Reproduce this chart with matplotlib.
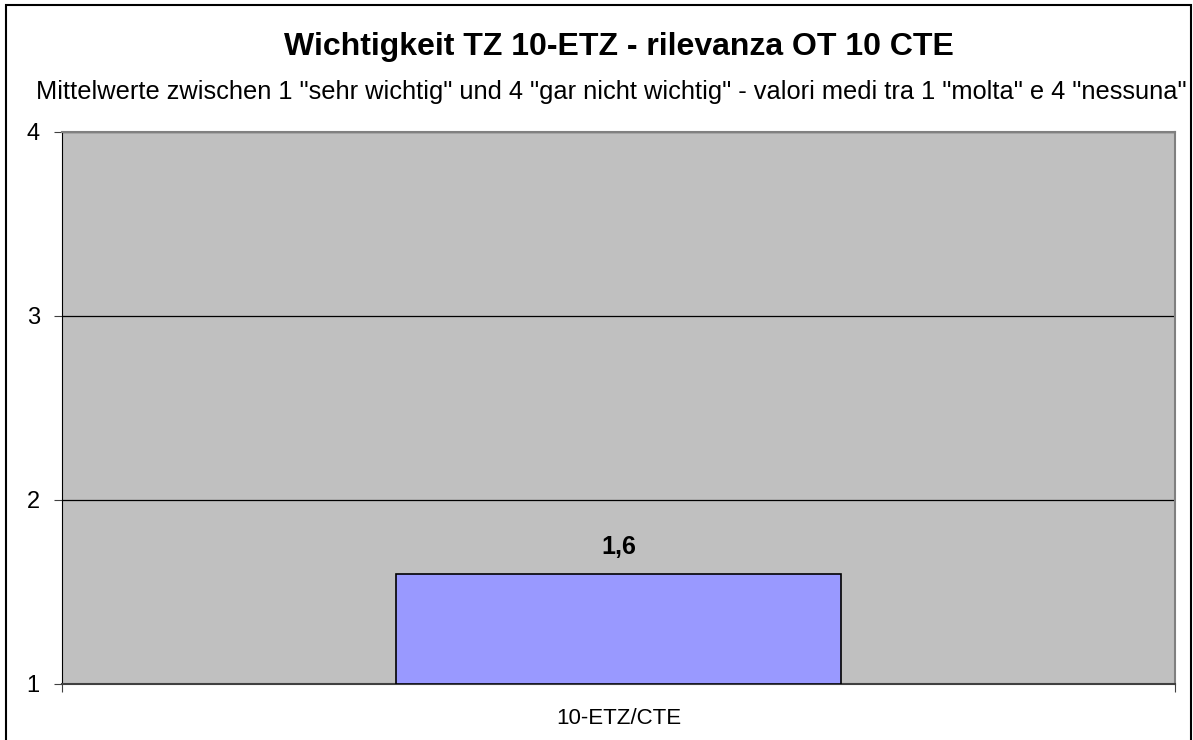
import matplotlib.pyplot as plt
from matplotlib.patches import Rectangle

plt.rcParams['font.family'] = ['Liberation Sans', 'DejaVu Sans']

# Data
categories = ["10-ETZ/CTE"]
values = [1.6]
value_labels = ["1,6"]
y_ticks = [1, 2, 3, 4]

title = "Wichtigkeit TZ 10-ETZ - rilevanza OT 10 CTE"
subtitle = ('Mittelwerte zwischen 1 "sehr wichtig" und 4 "gar nicht wichtig" - '
            'valori medi tra 1 "molta" e 4 "nessuna"')

fig = plt.figure(figsize=(11.93, 7.40), dpi=100)
ax = fig.add_axes([62/1193, 1 - 684/740, (1175 - 62)/1193, (684 - 132)/740])
ax.set_facecolor('#C0C0C0')

x = list(range(len(categories)))
ax.bar(x, [v - 1 for v in values], bottom=1, width=0.4,
       color='#9999FF', edgecolor='black', linewidth=1.2, zorder=3)
for xi, v, lab in zip(x, values, value_labels):
    ax.text(xi, v + 0.08, lab, ha='center', va='bottom',
            fontsize=18, fontweight='bold')

ax.set_xlim(-0.5, len(categories) - 0.5)
ax.set_ylim(1, 4)
ax.set_yticks(y_ticks)
ax.set_yticklabels([str(t) for t in y_ticks], fontsize=17)
ax.yaxis.grid(True, color='black', linewidth=0.9, zorder=1)
ax.set_axisbelow(True)
ax.tick_params(axis='y', length=6, width=0.8, pad=10, color='#404040')

# category labels below, tick marks at category boundaries
ax.set_xticks(x)
ax.set_xticklabels(categories, fontsize=16)
ax.tick_params(axis='x', which='major', length=0, pad=17)
ax.set_xticks([-0.5, len(categories) - 0.5], minor=True)
ax.tick_params(axis='x', which='minor', length=6, width=0.8, color='#404040')

for side in ['top', 'right']:
    ax.spines[side].set_color('#808080')
    ax.spines[side].set_linewidth(1.5)
ax.spines['left'].set_color('black')
ax.spines['bottom'].set_color('#404040')
ax.spines['bottom'].set_linewidth(1.5)

fig.text(619/1193, 1 - 47/740, title, ha='center', va='center',
         fontsize=23, fontweight='bold')
fig.text(611/1193, 1 - 92/740, subtitle, ha='center', va='center', fontsize=18.3)

# outer frame around the chart
fig.patches.append(Rectangle((6/1193, -0.1), 1185/1193, 1 - 5/740 + 0.1,
                             transform=fig.transFigure, fill=False,
                             edgecolor='black', linewidth=1.5))

fig.savefig('out.png', dpi=100)
